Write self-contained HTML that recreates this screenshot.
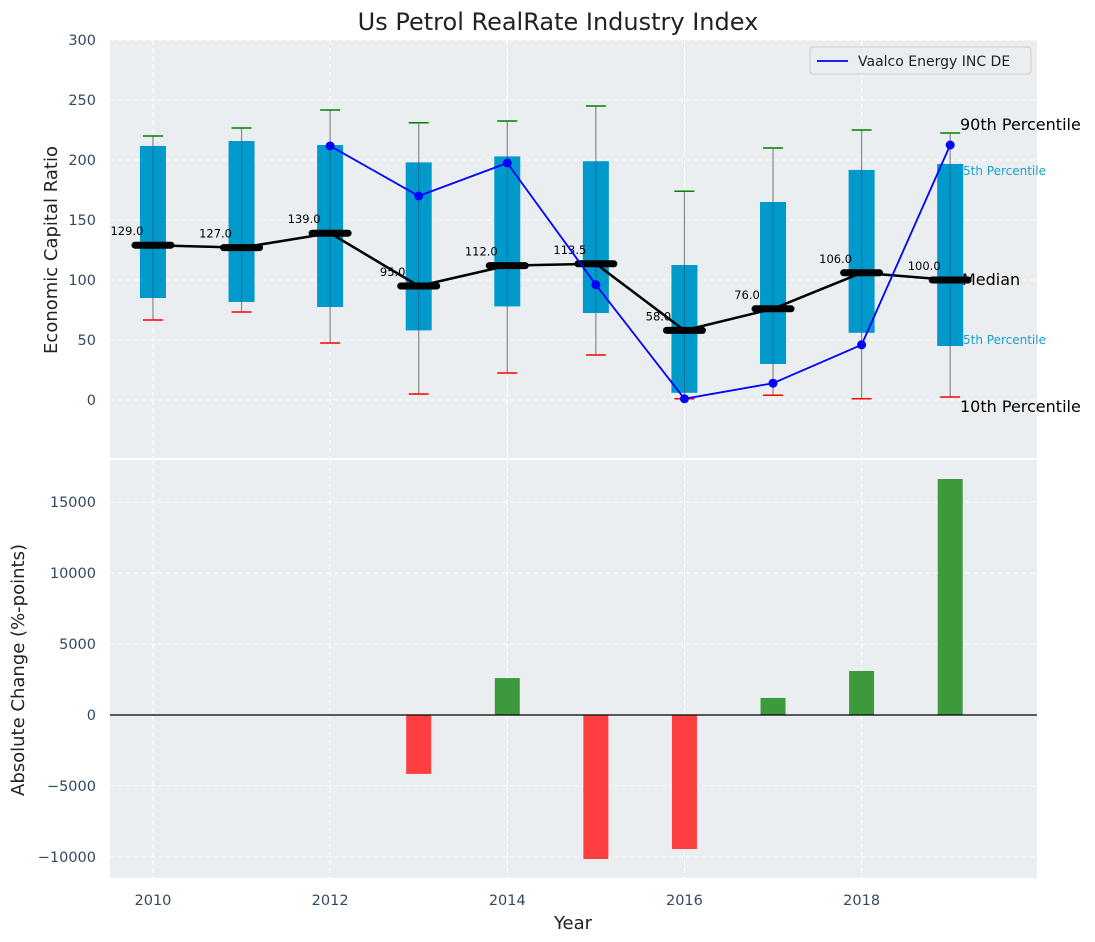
<!DOCTYPE html>
<html><head><meta charset="utf-8"><style>
body{margin:0;background:#fff;}
svg{display:block;font-family:"DejaVu Sans","Liberation Sans",sans-serif;}
</style></head><body>
<svg id="c" width="1095" height="942"></svg>
<script>
const years=[2010,2011,2012,2013,2014,2015,2016,2017,2018,2019];
const p10=[66.7,73.3,47.5,5,22.5,37.5,1,4,1,2.5];
const p25=[85,81.7,77.5,58,78,72.5,6,30,56,45];
const medians=[129,127,139,95,112,113.5,58,76,106,100];
const p75=[211.7,215.8,212.5,198,203,199,112.5,165,191.7,196.7];
const p90=[220,226.7,241.7,231,232.5,245,174,210,225,222.5];
const vaalcoYears=[2012,2013,2014,2015,2016,2017,2018,2019];
const vaalco=[211.7,170,197.5,96,1,14,46,212.5];
const changeYears=[2013,2014,2015,2016,2017,2018,2019];
const changes=[-4150,2600,-10140,-9440,1200,3100,16620];
const topTicks=[0,50,100,150,200,250,300];
const botTicks=[-10000,-5000,0,5000,10000,15000];
const xTicks=[2010,2012,2014,2016,2018];

const svg=document.getElementById('c');
const NS='http://www.w3.org/2000/svg';
function el(tag,a,parent){const e=document.createElementNS(NS,tag);for(const k in a)e.setAttribute(k,a[k]);(parent||svg).appendChild(e);return e;}
const L=110,R=1037;
const x=v=>L+(v-2009.515)/(2019.98-2009.515)*(R-L);
const yT=v=>400-v*1.2;
const yB=v=>715-v*71/5000;

let bg=el('rect',{x:L,y:40,width:R-L,height:418,fill:'#eaeef0'});

bg=el('rect',{x:L,y:460,width:R-L,height:418,fill:'#eaeef0'});


xTicks.forEach(t=>{
  [[40,458],[460,878]].forEach(r=>{let g=el('line',{x1:x(t),x2:x(t),y1:r[0],y2:r[1],stroke:'#fff','stroke-dasharray':'5,3','stroke-width':1});});
  let tx=el('text',{x:x(t),y:905,'text-anchor':'middle','font-size':14.5,fill:'#34495e'});tx.textContent=t;
  
});
topTicks.forEach(t=>{
  let g=el('line',{x1:L,x2:R,y1:yT(t),y2:yT(t),stroke:'#fff','stroke-dasharray':'5,3'});
  let tx=el('text',{x:96,y:yT(t)+5,'text-anchor':'end','font-size':14.5,fill:'#34495e'});tx.textContent=t;
  
});
botTicks.forEach(t=>{
  let g=el('line',{x1:L,x2:R,y1:yB(t),y2:yB(t),stroke:'#fff','stroke-dasharray':'5,3'});
  let tx=el('text',{x:96,y:yB(t)+5,'text-anchor':'end','font-size':14.5,fill:'#34495e'});tx.textContent=(t<0?'\u2212'+(-t):t);
  
});

years.forEach((yr,i)=>{
  const cx=x(yr);
  let w=el('line',{x1:cx,x2:cx,y1:yT(p90[i]),y2:yT(p10[i]),stroke:'#888','stroke-width':1.2});
  
  let b=el('rect',{x:cx-13,y:yT(p75[i]),width:26,height:yT(p25[i])-yT(p75[i]),fill:'#0099cc'});
  
  let w2=el('line',{x1:cx,x2:cx,y1:yT(p75[i]),y2:yT(p25[i]),stroke:'#1a5f7a','stroke-width':1,opacity:0.7});
  
  let h=el('line',{x1:cx-10,x2:cx+10,y1:yT(p90[i]),y2:yT(p90[i]),stroke:'green','stroke-width':1.5});
  
  let lo=el('line',{x1:cx-10,x2:cx+10,y1:yT(p10[i]),y2:yT(p10[i]),stroke:'red','stroke-width':1.5});
  
});
let mp=el('polyline',{points:years.map((yr,i)=>x(yr)+','+yT(medians[i])).join(' '),fill:'none',stroke:'#000','stroke-width':2.5});

years.forEach((yr,i)=>{
  let m=el('line',{x1:x(yr)-18,x2:x(yr)+18,y1:yT(medians[i]),y2:yT(medians[i]),stroke:'#000','stroke-width':7,'stroke-linecap':'round'});
  
  let t=el('text',{x:x(yr)-26,y:yT(medians[i])-10,'text-anchor':'middle','font-size':11.5,fill:'#000'});t.textContent=medians[i].toFixed(1);
  
});
let vp=el('polyline',{points:vaalcoYears.map((yr,i)=>x(yr)+','+yT(vaalco[i])).join(' '),fill:'none',stroke:'#0000ff','stroke-width':1.8});

vaalcoYears.forEach((yr,i)=>{let c=el('circle',{cx:x(yr),cy:yT(vaalco[i]),r:4.5,fill:'#0000ff'});});

[['90th Percentile',960,130,16,'#000'],['5th Percentile',963,175,12,'#1a9fcf'],['Median',962,285,16,'#000'],['5th Percentile',963,344,12,'#1a9fcf'],['10th Percentile',960,412,16,'#000']].forEach(a=>{
  let t=el('text',{x:a[1],y:a[2],'font-size':a[3],fill:a[4]});t.textContent=a[0];
  
});

let lg=el('g',{});
el('rect',{x:810,y:47,width:221,height:27,fill:'#eaeef0',stroke:'#ccc',rx:3},lg);
el('line',{x1:817,x2:848,y1:61,y2:61,stroke:'#0000ff','stroke-width':1.8},lg);
let lt=el('text',{x:858,y:66,'font-size':14,fill:'#222'},lg);lt.textContent='Vaalco Energy INC DE';

changeYears.forEach((yr,i)=>{
  const v=changes[i];
  let b=el('rect',{x:x(yr)-12.5,y:Math.min(yB(v),yB(0)),width:25,height:Math.abs(yB(v)-yB(0)),fill:v>=0?'#3c9a3c':'#ff3f3f'});
  
});
let z=el('line',{x1:L,x2:R,y1:yB(0),y2:yB(0),stroke:'#000','stroke-width':1.2});


let t=el('text',{x:558,y:30,'text-anchor':'middle','font-size':24,fill:'#222'});t.textContent='Us Petrol RealRate Industry Index';

t=el('text',{x:0,y:0,'text-anchor':'middle','font-size':18,fill:'#222',transform:'translate(57,250) rotate(-90)'});t.textContent='Economic Capital Ratio';

t=el('text',{x:0,y:0,'text-anchor':'middle','font-size':18,fill:'#222',transform:'translate(24,670) rotate(-90)'});t.textContent='Absolute Change (%-points)';

t=el('text',{x:573,y:929,'text-anchor':'middle','font-size':18,fill:'#222'});t.textContent='Year';

</script>
</body></html>
